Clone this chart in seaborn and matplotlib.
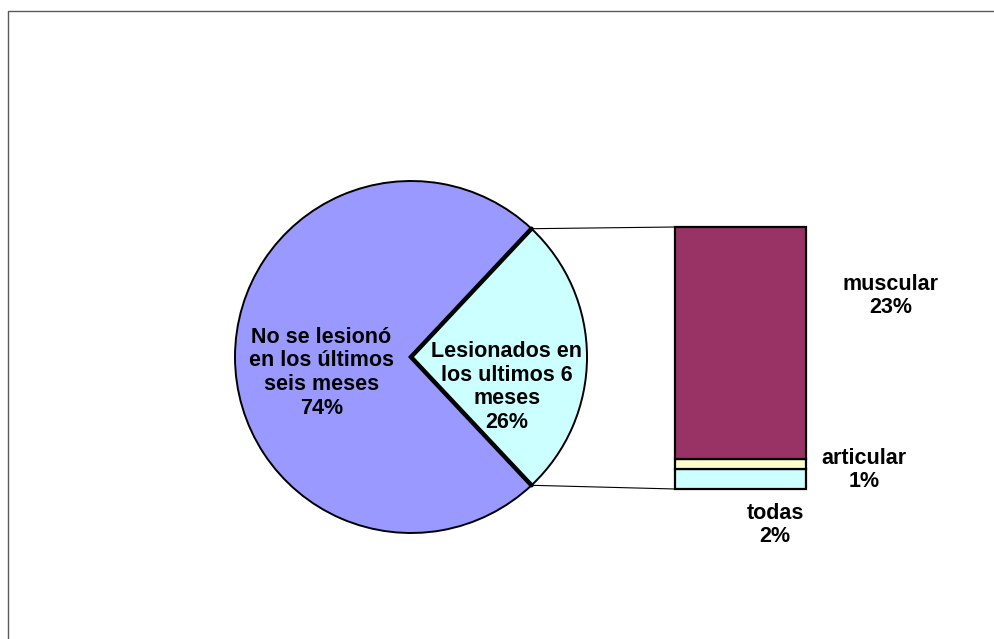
import numpy as np
import matplotlib
matplotlib.use("Agg")
import matplotlib.pyplot as plt
import seaborn as sns

# Main pie: injured vs not injured in the last six months
pie_labels = ["Lesionados en\nlos ultimos 6\nmeses", "No se lesionó\nen los últimos\nseis meses"]
pie_values = [26, 74]
pie_colors = ["#CCFFFF", "#9999FF"]

# Breakdown of the injured share, stacked from the bottom
bar_labels = ["todas", "articular", "muscular"]
bar_values = [2, 1, 23]
bar_colors = ["#CCFFFF", "#FFFFCC", "#993366"]

sns.set_theme(style="white")
plt.rcParams["font.family"] = ["Liberation Sans", "DejaVu Sans"]
plt.rcParams["text.color"] = "black"

W, H = 995, 639
fig = plt.figure(figsize=(W / 100, H / 100), dpi=100)

# overlay in pixel coordinates for the frame and connector lines
ov = fig.add_axes([0, 0, 1, 1])
ov.set_xlim(0, W)
ov.set_ylim(H, 0)
ov.axis("off")
ov.plot([7.5, 7.5, W + 5], [H + 5, 10.5, 10.5], color="#5a5a5a", lw=1.0)

# pie placement (pixels)
cx, cy, r = 411, 357, 176
pax = fig.add_axes([(cx - r) / W, (H - cy - r) / H, 2 * r / W, 2 * r / H])
half = pie_values[0] / sum(pie_values) * 360 / 2
wedges, _ = pax.pie(pie_values, colors=pie_colors, startangle=-half,
                    counterclock=True, radius=1.0,
                    wedgeprops=dict(edgecolor="black", linewidth=1.4, clip_on=False))
# heavier outline along the two radii of the small slice
ang = np.deg2rad(half)
pax.plot([np.cos(ang), 0, np.cos(ang)], [np.sin(ang), 0, -np.sin(ang)],
         color="black", lw=3.2, solid_joinstyle="miter", clip_on=False, zorder=4)
pax.set_xlim(-1, 1)
pax.set_ylim(-1, 1)
pax.set_aspect("auto")
pax.axis("off")

fs = 15.5
ls = 1.17
pax.text(-0.51, -0.09, f"{pie_labels[1]}\n{pie_values[1]}%", ha="center", va="center",
         fontsize=fs, fontweight="bold", linespacing=ls)
pax.text(0.545, -0.17, f"{pie_labels[0]}\n{pie_values[0]}%", ha="center", va="center",
         fontsize=fs, fontweight="bold", linespacing=ls, zorder=5)

# stacked bar placement (pixels)
bx0, bx1, by0, by1 = 675, 806, 227, 489
bax = fig.add_axes([bx0 / W, (H - by1) / H, (bx1 - bx0) / W, (by1 - by0) / H])
bottom = 0
for lab, v, c in zip(bar_labels, bar_values, bar_colors):
    bax.bar(0, v, width=1.0, bottom=bottom, color=c, edgecolor="black",
            linewidth=1.6, clip_on=False)
    bottom += v
bax.set_xlim(-0.5, 0.5)
bax.set_ylim(0, sum(bar_values))
bax.axis("off")

# connector lines from the slice edges to the bar corners
px = cx + r * np.cos(ang)
py_top = cy - r * np.sin(ang)
py_bot = cy + r * np.sin(ang)
ov.plot([px, bx0], [py_top, by0], color="black", lw=0.8, zorder=0)
ov.plot([px, bx0], [py_bot, by1], color="black", lw=0.8, zorder=0)

# bar segment labels (pixel positions)
label_pos = {"muscular": (891, 296), "articular": (864, 470), "todas": (775, 525)}
for lab, v in zip(bar_labels, bar_values):
    x, y = label_pos[lab]
    ov.text(x, y, f"{lab}\n{v}%", ha="center", va="center", fontsize=fs,
            fontweight="bold", linespacing=ls)

fig.savefig("out.png", dpi=100)
